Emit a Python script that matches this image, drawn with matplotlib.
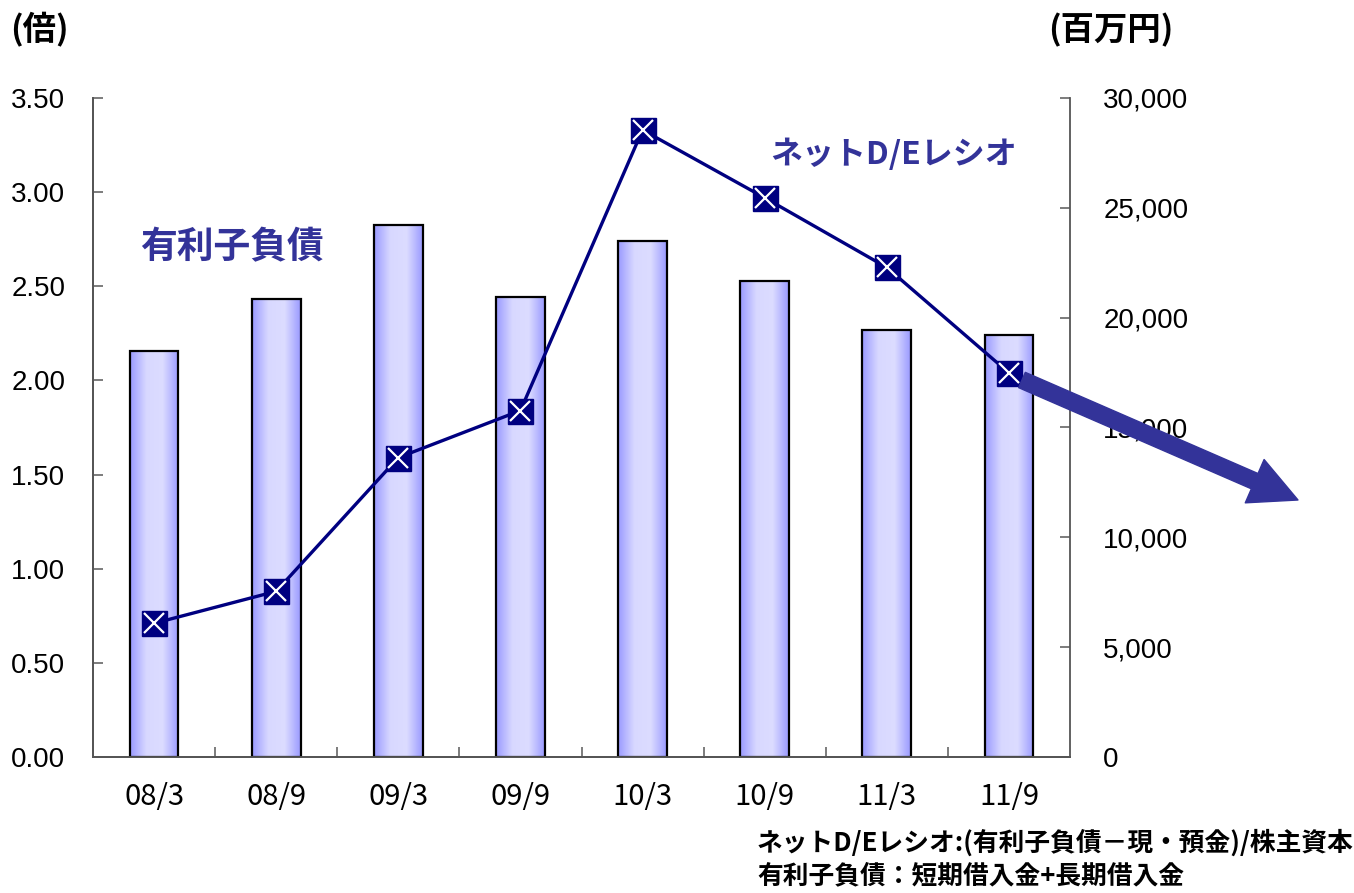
import numpy as np
import matplotlib.pyplot as plt
from matplotlib.colors import LinearSegmentedColormap
from matplotlib.ticker import FuncFormatter

# Values
periods = ["08/3", "08/9", "09/3", "09/9", "10/3", "10/9", "11/3", "11/9"]
debt = [18500, 20850, 24200, 20950, 23500, 21650, 19450, 19200]   # 有利子負債 (百万円)
de_ratio = [0.71, 0.88, 1.59, 1.84, 3.33, 2.97, 2.60, 2.04]       # ネットD/Eレシオ (倍)
left_ticks = [0, 0.5, 1.0, 1.5, 2.0, 2.5, 3.0, 3.5]
right_ticks = [0, 5000, 10000, 15000, 20000, 25000, 30000]

jp = ['Noto Sans CJK JP', 'DejaVu Sans']
navy = '#000080'
label_blue = '#333399'

W, H = 1354, 893
fig = plt.figure(figsize=(W / 100, H / 100), dpi=100)
ax = fig.add_axes([93 / W, 1 - 757 / H, (1070 - 93) / W, (757 - 98) / H])
ax2 = ax.twinx()

x = np.arange(len(periods))

# bars with a horizontal gradient (right axis)
bars = ax2.bar(x, debt, width=0.4, facecolor='none', edgecolor='black',
               linewidth=1.6, zorder=3)
cmap = LinearSegmentedColormap.from_list('bar', ['#9a9aff', '#d8d8ff', '#dcdcff', '#9a9aff'])
grad = np.linspace(0, 1, 256).reshape(1, -1)
for b in bars:
    x0, w, h = b.get_x(), b.get_width(), b.get_height()
    ax2.imshow(grad, cmap=cmap, extent=[x0, x0 + w, 0, h], aspect='auto',
               zorder=2, interpolation='bilinear')

# D/E ratio line (left axis)
ax.plot(x, de_ratio, color=navy, lw=2.4, marker='s', ms=18,
        mfc=navy, mec=navy, zorder=4)
ax.plot(x, de_ratio, ls='none', marker='x', ms=14, mew=1.6, color='white', zorder=5)

ax.set_zorder(ax2.get_zorder() + 1)
ax.patch.set_visible(False)

ax.set_xlim(-0.5, len(periods) - 0.5)
ax.set_ylim(0, 3.5)
ax2.set_ylim(0, 30000)

ax.set_xticks(x)
ax.set_xticklabels(periods, fontsize=21, family=jp)
ax.set_xticks(x[:-1] + 0.5, minor=True)
ax.tick_params(axis='x', which='major', length=0, pad=18)
ax.tick_params(axis='x', which='minor', direction='in', length=7, color='#666666', width=1.2)

ax.set_yticks(left_ticks)
ax.yaxis.set_major_formatter(FuncFormatter(lambda v, p: f"{v:.2f}"))
ax.tick_params(axis='y', direction='in', length=7, width=1.2, color='#666666',
               labelsize=20, pad=20)
ax2.set_yticks(right_ticks)
ax2.yaxis.set_major_formatter(FuncFormatter(lambda v, p: f"{int(v):,}"))
ax2.tick_params(axis='y', direction='in', length=7, width=1.2, color='#666666',
                labelsize=20, pad=24)
for lab in ax.get_yticklabels() + ax2.get_yticklabels():
    lab.set_family('Liberation Sans')

for a in (ax, ax2):
    a.spines['top'].set_visible(False)
    for s in a.spines.values():
        s.set_color('#555555')
        s.set_linewidth(1.3)
ax.spines['right'].set_visible(False)

# axis unit labels
fig.text(10 / W, 1 - 30 / H, "(倍)", fontsize=24, fontweight='bold', family=jp,
         ha='left', va='center')
fig.text(1048 / W, 1 - 30 / H, "(百万円)", fontsize=24, fontweight='bold', family=jp,
         ha='left', va='center')

# series labels
fig.text(140 / W, 1 - 248 / H, "有利子負債", fontsize=26.5, fontweight='bold', family=jp,
         color=label_blue, ha='left', va='center')
fig.text(770 / W, 1 - 155 / H, "ネットD/Eレシオ", fontsize=23, fontweight='bold', family=jp,
         color=label_blue, ha='left', va='center')

# trend arrow
ax.annotate("", xy=(1298, H - 500), xytext=(1022, H - 380),
            xycoords='figure pixels', textcoords='figure pixels',
            arrowprops=dict(arrowstyle='simple,head_length=1.7,head_width=1.7,tail_width=0.6',
                            mutation_scale=20, color=label_blue, shrinkA=0, shrinkB=0),
            annotation_clip=False, zorder=10)

# footnotes
fig.text(757 / W, 1 - 843 / H, "ネットD/Eレシオ:(有利子負債－現・預金)/株主資本",
         fontsize=18.5, fontweight='bold', family=jp, ha='left', va='center')
fig.text(757 / W, 1 - 876 / H, "有利子負債：短期借入金+長期借入金",
         fontsize=18.5, fontweight='bold', family=jp, ha='left', va='center')

plt.savefig("out.png", dpi=100)
